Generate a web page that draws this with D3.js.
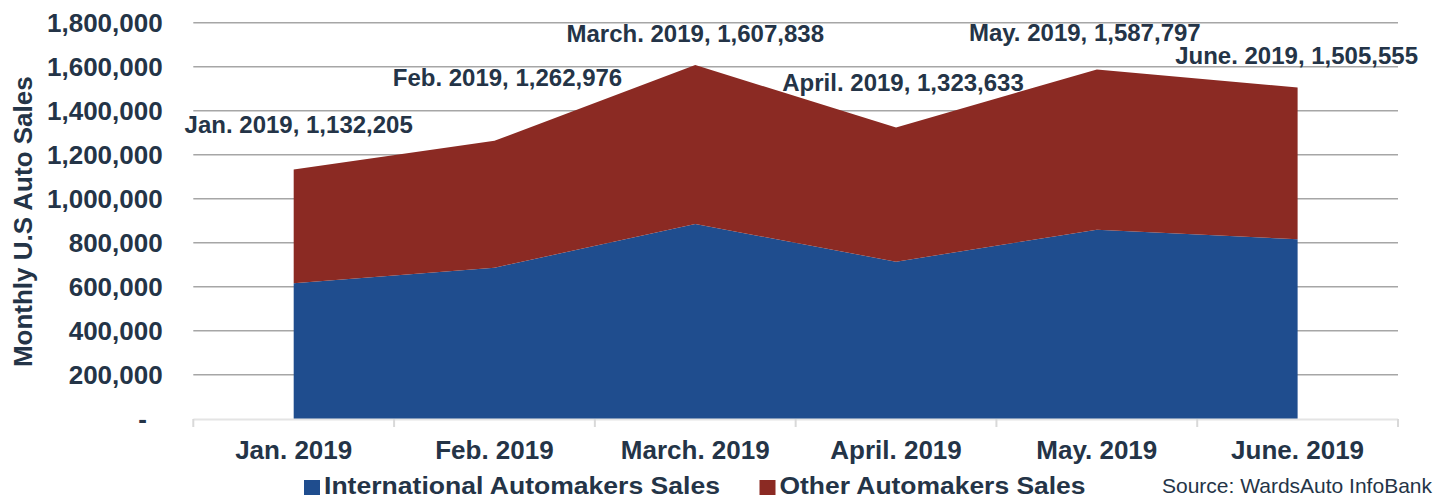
<!DOCTYPE html>
<html>
<head>
<meta charset="utf-8">
<script src="https://d3js.org/d3.v7.min.js"></script>
<style>
  body { margin: 0; background: #fff; }
  svg { display: block; font-family: "Liberation Sans", Arial, sans-serif; }
</style>
</head>
<body>
<svg id="chart" width="1452" height="499"></svg>
<script>
// values
const months = ["Jan. 2019", "Feb. 2019", "March. 2019", "April. 2019", "May. 2019", "June. 2019"];
const international = [615500, 686400, 885000, 713600, 859000, 815400];
const other = [516705, 576576, 722838, 610033, 728797, 690155];
const seriesNames = ["International Automakers Sales", "Other Automakers Sales"];
const yTicks = [0, 200000, 400000, 600000, 800000, 1000000, 1200000, 1400000, 1600000, 1800000];

// manual label nudges (like the hand-placed Excel labels)
const labelDx = [5, 13, 0, 7, -12, -1];
const labelDy = [-37, -55, -23, -36.5, -28, -23.5];

const textColor = "#243447";
const colors = ["#1f4d8e", "#8b2a23"];

const svg = d3.select("#chart");

const x = d3.scaleBand().domain(months).range([193.3, 1398]).padding(0);
const y = d3.scaleLinear().domain([0, 1800000]).range([418.7, 22.7]);
const cx = m => x(m) + x.bandwidth() / 2;

const rows = months.map((m, i) => ({ month: m, intl: international[i], other: other[i] }));
const stack = d3.stack().keys(["intl", "other"]);
const layers = stack(rows);

// gridlines
svg.append("g")
  .selectAll("line")
  .data(yTicks.filter(d => d > 0))
  .join("line")
  .attr("x1", 193.3).attr("x2", 1398)
  .attr("y1", d => y(d)).attr("y2", d => y(d))
  .attr("stroke", "#a6a6a6")
  .attr("stroke-width", 1.5);

// y tick labels
svg.append("g")
  .selectAll("text")
  .data(yTicks)
  .join("text")
  .attr("x", d => d === 0 ? 147 : 162.7)
  .attr("y", d => y(d))
  .attr("dy", "0.35em")
  .attr("text-anchor", "end")
  .style("font-size", "26px")
  .style("font-weight", "bold")
  .style("fill", textColor)
  .text(d => d === 0 ? "-" : d3.format(",")(d));

// stacked areas
const area = d3.area()
  .x(d => cx(d.data.month))
  .y0(d => y(d[0]))
  .y1(d => y(d[1]));

svg.append("g")
  .selectAll("path")
  .data(layers)
  .join("path")
  .attr("d", area)
  .attr("fill", (d, i) => colors[i]);

// x axis line and ticks
const axisG = svg.append("g");
axisG.append("line")
  .attr("x1", 193.3).attr("x2", 1398)
  .attr("y1", 419.5).attr("y2", 419.5)
  .attr("stroke", "#d9d9d9")
  .attr("stroke-opacity", 0.7)
  .attr("stroke-width", 2);
axisG.selectAll("line.tick")
  .data(months.map(m => x(m)).concat([x.range()[1]]))
  .join("line")
  .attr("class", "tick")
  .attr("x1", d => d).attr("x2", d => d)
  .attr("y1", 419).attr("y2", 427)
  .attr("stroke", "#d9d9d9")
  .attr("stroke-width", 2);

// x labels
svg.append("g")
  .selectAll("text")
  .data(months)
  .join("text")
  .attr("x", d => cx(d))
  .attr("y", 459.3)
  .attr("text-anchor", "middle")
  .style("font-size", "26px")
  .style("font-weight", "bold")
  .style("fill", textColor)
  .text(d => d);

// data labels on totals
const totalLayer = layers[1];
svg.append("g")
  .selectAll("text")
  .data(totalLayer)
  .join("text")
  .attr("x", (d, i) => cx(d.data.month) + labelDx[i])
  .attr("y", (d, i) => y(d[1]) + labelDy[i])
  .attr("text-anchor", "middle")
  .style("font-size", "24px")
  .style("font-weight", "bold")
  .style("fill", textColor)
  .text(d => d.data.month + ", " + d3.format(",")(d[1]));

// y axis title
svg.append("text")
  .attr("transform", "translate(31.7,221.7) rotate(-90)")
  .attr("text-anchor", "middle")
  .style("font-size", "26px")
  .style("font-weight", "bold")
  .style("fill", textColor)
  .text("Monthly U.S Auto Sales");

// legend (text is a bit stretched in the original)
const legendX = [304, 759.5];
const legendW = [396, 306];
const legend = svg.append("g")
  .selectAll("g")
  .data(seriesNames)
  .join("g")
  .attr("transform", (d, i) => `translate(${legendX[i]},0)`);
legend.append("rect")
  .attr("x", 0).attr("y", 480)
  .attr("width", 16).attr("height", 15)
  .attr("fill", (d, i) => colors[i]);
legend.append("text")
  .attr("x", 20).attr("y", 494)
  .attr("textLength", (d, i) => legendW[i])
  .attr("lengthAdjust", "spacingAndGlyphs")
  .style("font-size", "23px")
  .style("font-weight", "bold")
  .style("fill", textColor)
  .text(d => d);

// source
svg.append("text")
  .attr("x", 1432).attr("y", 493)
  .attr("text-anchor", "end")
  .style("font-size", "21px")
  .style("fill", textColor)
  .text("Source: WardsAuto InfoBank");
</script>
</body>
</html>
